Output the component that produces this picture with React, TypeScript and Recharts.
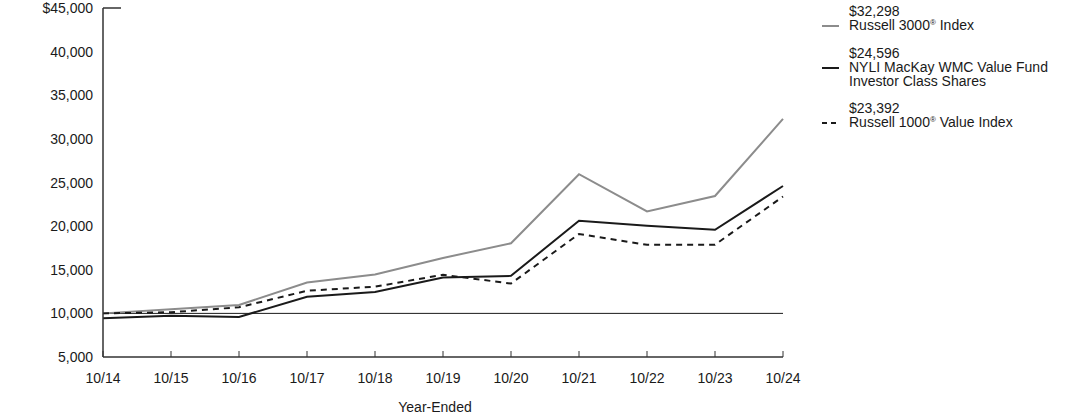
import React from "react";
import {
  LineChart,
  Line,
  XAxis,
  YAxis,
  ReferenceLine,
} from "recharts";

const years = ["10/14", "10/15", "10/16", "10/17", "10/18", "10/19", "10/20", "10/21", "10/22", "10/23", "10/24"];
const russell3000 = [10000, 10460, 10960, 13540, 14460, 16350, 18040, 25950, 21680, 23450, 32298];
const fundInvestor = [9450, 9730, 9590, 11910, 12450, 14100, 14300, 20620, 20030, 19580, 24596];
const russell1000Value = [10000, 10130, 10700, 12590, 13060, 14420, 13420, 19100, 17860, 17870, 23392];
const yTicks = [5000, 10000, 15000, 20000, 25000, 30000, 35000, 40000, 45000];

const legendItems = [
  { value: "$32,298", name: "Russell 3000", suffix: " Index", sub: "", color: "#8c8c8c", dash: undefined },
  { value: "$24,596", name: "NYLI MacKay WMC Value Fund", suffix: "", sub: "Investor Class Shares", color: "#1a1a1a", dash: undefined },
  { value: "$23,392", name: "Russell 1000", suffix: " Value Index", sub: "", color: "#1a1a1a", dash: "5 4" },
];

const data = years.map((name, i) => ({
  name,
  r3000: russell3000[i],
  fund: fundInvestor[i],
  r1000v: russell1000Value[i],
}));

const FONT = "Arial, 'Liberation Sans', sans-serif";

const XTick = (props: any) => {
  const { x, y, payload } = props;
  return (
    <g>
      <line x1={x} x2={x} y1={y} y2={y - 6} stroke="#333" strokeWidth={1} />
      <text x={x} y={y + 26} textAnchor="middle" fontSize={14} fill="#1a1a1a" fontFamily={FONT}>
        {payload.value}
      </text>
    </g>
  );
};

const YTick = (props: any) => {
  const { x, y, payload } = props;
  const v = payload.value as number;
  const label = v === 45000 ? "$45,000" : v.toLocaleString("en-US");
  return (
    <g>
      {v === 45000 && <line x1={x + 10} x2={x + 28} y1={y} y2={y} stroke="#333" strokeWidth={1.5} />}
      <text x={x} y={y + 5} textAnchor="end" fontSize={14} fill="#1a1a1a" fontFamily={FONT}>
        {label}
      </text>
    </g>
  );
};

const ChartLegend = () => (
  <div style={{ position: "absolute", left: 822, top: 4, width: 270, fontFamily: FONT, fontSize: 14, color: "#1a1a1a", lineHeight: "14px" }}>
    {legendItems.map((item, idx) => (
      <div key={idx} style={{ position: "relative", marginBottom: idx === 1 ? 13 : 14, paddingLeft: 27 }}>
        <div>{item.value}</div>
        <div>
          {item.name}
          {item.suffix && <sup style={{ fontSize: 8, verticalAlign: "top", lineHeight: "10px" }}>®</sup>}
          {item.suffix}
        </div>
        {item.sub && <div>{item.sub}</div>}
        <svg width={18} height={4} style={{ position: "absolute", left: 0, top: 20 }}>
          <line x1={0} x2={17} y1={2} y2={2} stroke={item.color} strokeWidth={2} strokeDasharray={item.dash} />
        </svg>
      </div>
    ))}
  </div>
);

export default function App() {
  return (
    <div style={{ position: "absolute", left: 0, top: 0, width: 1092, height: 417, background: "#fff" }}>
      <LineChart
        width={1092}
        height={417}
        data={data}
        margin={{ top: 8, right: 309, left: 0, bottom: 5 }}
      >
        <XAxis
          dataKey="name"
          height={55}
          axisLine={{ stroke: "#333", strokeWidth: 1.5 }}
          tickLine={false}
          tickSize={0}
          tickMargin={0}
          tick={<XTick />}
          interval={0}
          label={{ value: "Year-Ended", position: "insideBottom", offset: 0, dx: -8, fontSize: 14, fill: "#1a1a1a", fontFamily: FONT }}
        />
        <YAxis
          width={103}
          domain={[5000, 45000]}
          ticks={yTicks}
          interval={0}
          axisLine={{ stroke: "#333", strokeWidth: 1.5 }}
          tickLine={false}
          tickSize={0}
          tickMargin={10}
          tick={<YTick />}
        />
        <ReferenceLine y={10000} stroke="#1a1a1a" strokeWidth={1} />
        <Line type="linear" dataKey="r3000" stroke="#8c8c8c" strokeWidth={2} dot={false} isAnimationActive={false} />
        <Line type="linear" dataKey="r1000v" stroke="#1a1a1a" strokeWidth={2} strokeDasharray="6 5" dot={false} isAnimationActive={false} />
        <Line type="linear" dataKey="fund" stroke="#1a1a1a" strokeWidth={2} dot={false} isAnimationActive={false} />
      </LineChart>
      <ChartLegend />
    </div>
  );
}
